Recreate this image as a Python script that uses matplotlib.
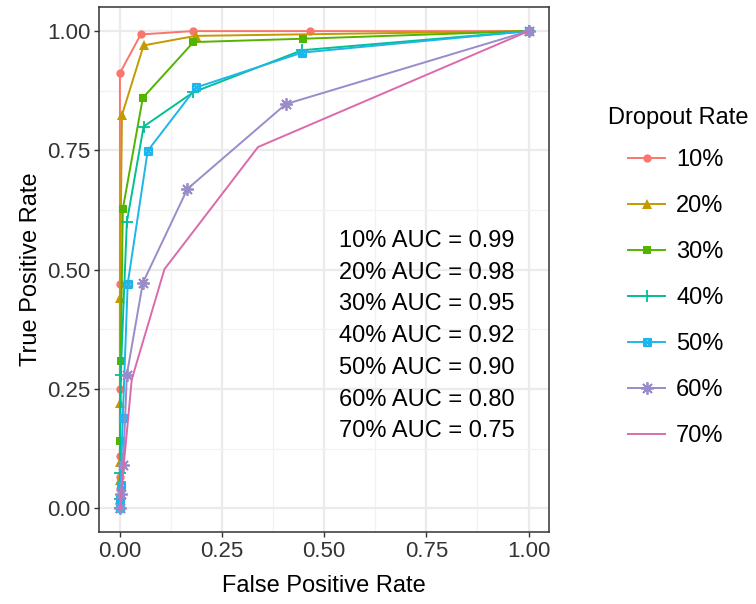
import matplotlib
matplotlib.use("Agg")
import matplotlib.pyplot as plt
from matplotlib.path import Path
import numpy as np

plt.rcParams['font.family'] = ['Liberation Sans', 'DejaVu Sans']

labels = ["10%", "20%", "30%", "40%", "50%", "60%", "70%"]
fpr10 = [0, 0, 0, 0, 0, 0, 0, 0, 0, 0.051, 0.178, 0.465, 1]
tpr10 = [0, 0.01, 0.02, 0.04, 0.065, 0.11, 0.25, 0.47, 0.912, 0.993, 1.0, 1.0, 1.0]
fpr20 = [0, 0, 0, 0, 0, 0, 0.005, 0.058, 0.185, 1]
tpr20 = [0, 0.02, 0.06, 0.096, 0.22, 0.44, 0.824, 0.97, 0.99, 1]
fpr30 = [0, 0, 0, 0.002, 0.007, 0.056, 0.18, 0.448, 1]
tpr30 = [0, 0.02, 0.14, 0.308, 0.627, 0.86, 0.977, 0.984, 1]
fpr40 = [0, 0, 0, 0.002, 0.017, 0.058, 0.18, 0.446, 1]
tpr40 = [0, 0.02, 0.073, 0.28, 0.60, 0.80, 0.872, 0.96, 1]
fpr50 = [0, 0, 0.002, 0.007, 0.019, 0.068, 0.187, 0.446, 1]
tpr50 = [0, 0.02, 0.048, 0.19, 0.47, 0.749, 0.882, 0.955, 1]
fpr60 = [0, 0.002, 0.008, 0.017, 0.056, 0.165, 0.406, 1]
tpr60 = [0, 0.03, 0.09, 0.28, 0.472, 0.669, 0.847, 1]
fpr70 = [0, 0.005, 0.029, 0.109, 0.338, 1]
tpr70 = [0, 0.05, 0.27, 0.501, 0.757, 1]
auc = [0.99, 0.98, 0.95, 0.92, 0.90, 0.80, 0.75]

fprs = [fpr10, fpr20, fpr30, fpr40, fpr50, fpr60, fpr70]
tprs = [tpr10, tpr20, tpr30, tpr40, tpr50, tpr60, tpr70]
colors = ["#F8766D", "#C49A00", "#53B400", "#00C094", "#1DB5EA", "#9A8BCB", "#DB6AAB"]

# square with cross marker
sqx = Path([(-1, -1), (1, -1), (1, 1), (-1, 1), (-1, -1), (-1, -1), (1, 1), (-1, 1), (1, -1)],
           [Path.MOVETO, Path.LINETO, Path.LINETO, Path.LINETO, Path.CLOSEPOLY,
            Path.MOVETO, Path.LINETO, Path.MOVETO, Path.LINETO])
markers = ['o', '^', 's', '+', sqx, (8, 2, 0), None]
msizes = [6, 6.5, 5.5, 9, 6.5, 9, 0]

fig = plt.figure(figsize=(7.56, 6.04), dpi=100)
ax = fig.add_axes([0.1316, 0.1192, 0.5946, 0.8688])

handles = []
for i in range(7):
    m = markers[i]
    kw = dict(color=colors[i], lw=1.4, label=labels[i], zorder=3)
    if m is not None:
        kw.update(marker=m, markersize=msizes[i])
        if i == 4:
            kw.update(markerfacecolor='none', markeredgewidth=1.6, markersize=5)
        elif i in (3, 5):
            kw.update(markeredgewidth=1.3)
        else:
            kw.update(markeredgewidth=0)
    h, = ax.plot(fprs[i], tprs[i], **kw)
    handles.append(h)

ticks = [0, 0.25, 0.5, 0.75, 1.0]
ax.set_xlim(-0.05, 1.05)
ax.set_ylim(-0.05, 1.05)
ax.set_xticks(ticks)
ax.set_yticks(ticks)
ax.set_xticklabels(["0.00", "0.25", "0.50", "0.75", "1.00"])
ax.set_yticklabels(["0.00", "0.25", "0.50", "0.75", "1.00"])
ax.set_xticks([0.125, 0.375, 0.625, 0.875], minor=True)
ax.set_yticks([0.125, 0.375, 0.625, 0.875], minor=True)
ax.grid(True, which='major', color='#EBEBEB', lw=1.6, zorder=0)
ax.grid(True, which='minor', color='#F2F2F2', lw=0.9, zorder=0)
ax.set_axisbelow(True)
ax.tick_params(which='minor', length=0)
ax.tick_params(which='major', length=3.5, width=1, color='#333333', labelsize=16, labelcolor='#333333', pad=3)
for s in ax.spines.values():
    s.set_color('#333333')
    s.set_linewidth(1.1)
ax.set_xlabel("False Positive Rate", fontsize=17, labelpad=9)
ax.set_ylabel("True Positive Rate", fontsize=17, labelpad=4)

for i in range(7):
    ax.text(0.75, 0.56 - i * 0.0665, f"{labels[i]} AUC = {auc[i]:.2f}",
            ha='center', va='center', fontsize=17, color='black')

fig.text(608 / 756, 1 - 118 / 604, "Dropout Rate", fontsize=17, ha='left', va='center')
leg = fig.legend(handles=handles, labels=labels, loc='upper left',
                 bbox_to_anchor=(628 / 756, 1 - 149 / 604), bbox_transform=fig.transFigure,
                 frameon=False, fontsize=17, labelspacing=1.02, borderpad=0,
                 handlelength=1.57, handletextpad=0.47, borderaxespad=0)

fig.savefig("out.png", dpi=100)
